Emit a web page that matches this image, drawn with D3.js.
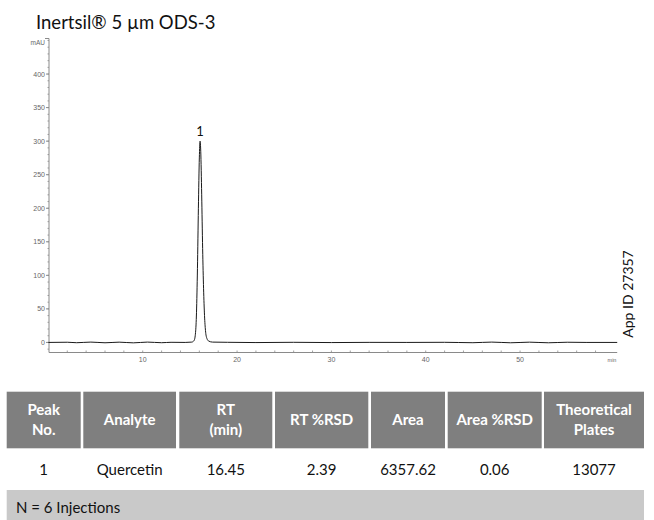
<!DOCTYPE html>
<html>
<head>
<meta charset="utf-8">
<script src="https://cdn.jsdelivr.net/npm/d3@7"></script>
<style>
  body { margin: 0; background: #fff; }
  svg text { font-family: Lato, "Open Sans", sans-serif; }
  .ax text { font-family: "Liberation Sans", Arial, sans-serif; fill: #666; }
</style>
</head>
<body>
<div id="chart"></div>
<script>
// chromatogram points (time in min, signal in mAU)
var timeMin = [0, 2, 3, 4.5, 6, 7.5, 9, 10.5, 12, 13, 14.5, 15.2, 15.45, 15.6, 15.7, 15.8, 15.9, 16.0, 16.08, 16.15, 16.25, 16.35, 16.45, 16.55, 16.65, 16.8, 17.0, 17.4, 19, 22, 26, 30, 34, 38, 42, 45, 47, 49, 51, 53, 55, 57, 60.3];
var signalMAU = [0, 0.3, -0.4, 0.5, -0.5, 0.4, -0.6, 0.5, -0.4, 0.2, 0, 0.5, 3, 15, 45, 110, 200, 275, 300, 285, 220, 140, 80, 40, 18, 6, 2, 0.5, 0.2, -0.2, 0.2, -0.2, 0.1, 0, 0.2, -0.4, 0.5, -0.5, 0.4, -0.5, 0.3, 0, 0];

var peakLabels = [{t: 16.08, v: 300, txt: "1"}];

var xTicksMajor = [10, 20, 30, 40, 50];
var yTicksMajor = [0, 50, 100, 150, 200, 250, 300, 350, 400];

// tableau
var colHeaders = [["Peak", "No."], ["Analyte"], ["RT", "(min)"], ["RT %RSD"], ["Area"], ["Area %RSD"], ["Theoretical", "Plates"]];
var rowValues = ["1", "Quercetin", "16.45", "2.39", "6357.62", "0.06", "13077"];
var footNote = "N = 6 Injections";

var W = 654, H = 520;
var svg = d3.select("#chart").append("svg").attr("width", W).attr("height", H);

// titre
svg.append("text").attr("x", 36).attr("y", 29)
  .style("font-size", "18.5px").attr("fill", "#111")
  .text("Inertsil\u00AE 5 \u00B5m ODS-3");

var x = d3.scaleLinear().domain([0, 60]).range([48.4, 614.4]);
var y = d3.scaleLinear().domain([-15, 453]).range([352.5, 38.5]);
var xEnd = 60.3;

var ax = svg.append("g").attr("class", "ax");
var axisColor = "#8a8a8a";

// axe Y
ax.append("line").attr("x1", 49).attr("x2", 49).attr("y1", y(453)).attr("y2", y(-15))
  .attr("stroke", axisColor).attr("stroke-width", 1);
ax.append("line").attr("x1", 45).attr("x2", 49).attr("y1", y(453)).attr("y2", y(453))
  .attr("stroke", axisColor);
var yMinor = d3.range(-10, 451, 10);
ax.selectAll(".ymin").data(yMinor).enter().append("line")
  .attr("x1", 47.5).attr("x2", 49)
  .attr("y1", function(d) { return y(d); }).attr("y2", function(d) { return y(d); })
  .attr("stroke", axisColor).attr("stroke-width", 0.8);
ax.selectAll(".ymaj").data(yTicksMajor).enter().append("line")
  .attr("x1", 46).attr("x2", 49)
  .attr("y1", function(d) { return y(d); }).attr("y2", function(d) { return y(d); })
  .attr("stroke", axisColor);
ax.selectAll(".ylab").data(yTicksMajor).enter().append("text")
  .attr("x", 45).attr("y", function(d) { return y(d) + 2.5; })
  .attr("text-anchor", "end").style("font-size", "7px")
  .text(function(d) { return d; });
ax.append("text").attr("x", 45).attr("y", 45).attr("text-anchor", "end")
  .style("font-size", "6.5px").text("mAU");

// axe X
ax.append("line").attr("x1", 49).attr("x2", x(xEnd)).attr("y1", y(-15)).attr("y2", y(-15))
  .attr("stroke", axisColor);
var xMinor = d3.range(2, 60, 2);
ax.selectAll(".xmin").data(xMinor).enter().append("line")
  .attr("x1", function(d) { return x(d); }).attr("x2", function(d) { return x(d); })
  .attr("y1", y(-15) - 2).attr("y2", y(-15))
  .attr("stroke", axisColor).attr("stroke-width", 0.8);
ax.selectAll(".xlab").data(xTicksMajor).enter().append("text")
  .attr("x", function(d) { return x(d); }).attr("y", 362)
  .attr("text-anchor", "middle").style("font-size", "7px")
  .text(function(d) { return d; });
ax.append("text").attr("x", 612).attr("y", 362).attr("text-anchor", "middle")
  .style("font-size", "5.5px").text("min");

// trace
var pts = timeMin.map(function(t, i) { return [t, signalMAU[i]]; });
var line = d3.line()
  .x(function(d) { return x(d[0]); })
  .y(function(d) { return y(d[1]); })
  .curve(d3.curveMonotoneX);
svg.append("path").datum(pts).attr("d", line)
  .attr("fill", "none").attr("stroke", "#1a1a1a").attr("stroke-width", 1);

svg.selectAll(".pk").data(peakLabels).enter().append("text")
  .attr("x", function(d) { return x(d.t); }).attr("y", function(d) { return y(d.v) - 5; })
  .attr("text-anchor", "middle").style("font-size", "13px").attr("fill", "#111")
  .text(function(d) { return d.txt; });

// App ID vertical
svg.append("text").attr("transform", "translate(633,294) rotate(-90)")
  .attr("text-anchor", "middle").style("font-size", "14px").attr("fill", "#111")
  .text("App ID 27357");

// tableau
var colEdges = [[6.7, 80.7], [83.3, 176], [179.3, 272.3], [275, 368.3], [371, 445], [447.7, 541.7], [544, 644]];
var hdr = svg.append("g");
colEdges.forEach(function(c, i) {
  hdr.append("rect").attr("x", c[0]).attr("y", 391.7).attr("width", c[1] - c[0]).attr("height", 56.6)
    .attr("fill", "#7f7f7f");
  var lines = colHeaders[i];
  var cx = (c[0] + c[1]) / 2;
  lines.forEach(function(l, j) {
    var cy = 420 + (j - (lines.length - 1) / 2) * 20;
    hdr.append("text").attr("x", cx).attr("y", cy + 5)
      .attr("text-anchor", "middle").style("font-size", "15px").style("font-weight", "bold")
      .attr("fill", "#fff").text(l);
  });
  svg.append("text").attr("x", cx).attr("y", 475)
    .attr("text-anchor", "middle").style("font-size", "15px").attr("fill", "#111")
    .text(rowValues[i]);
});

svg.append("rect").attr("x", 6.7).attr("y", 490).attr("width", 644 - 6.7).attr("height", 30)
  .attr("fill", "#c9c9c9");
svg.append("text").attr("x", 16).attr("y", 513).style("font-size", "15px").attr("fill", "#111")
  .text(footNote);
</script>
</body>
</html>
